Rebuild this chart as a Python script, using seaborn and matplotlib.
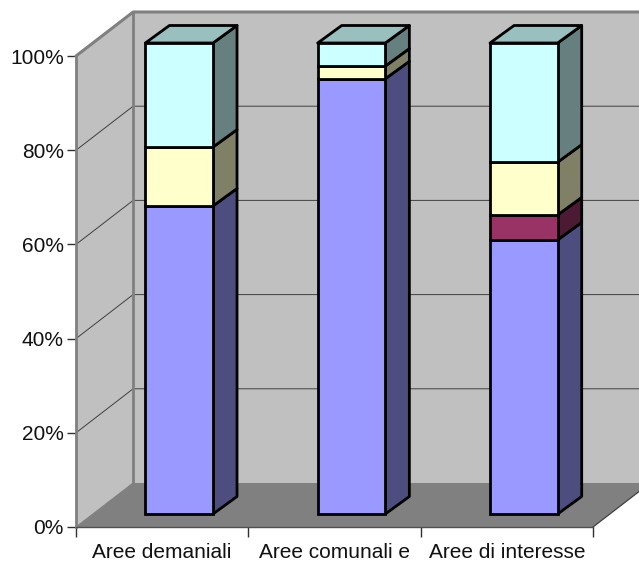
import matplotlib
matplotlib.use("Agg")
import matplotlib.pyplot as plt
from matplotlib.patches import Polygon
from matplotlib.ticker import FixedLocator, PercentFormatter
import numpy as np
import seaborn as sns

# Shares per area type (percent of each column)
categories = ["Aree demaniali", "Aree comunali e", "Aree di interesse"]
series_1 = [65.4, 92.4, 58.2]
series_2 = [0.0, 0.0, 5.3]
series_3 = [12.5, 2.7, 11.2]
series_4 = [22.1, 4.9, 25.3]
y_ticks = [0, 20, 40, 60, 80, 100]
colors = ["#9999FF", "#993366", "#FFFFCC", "#CCFFFF"]

W, H = 639, 561
sns.set_theme(style="white")
plt.rcParams["font.family"] = ["Liberation Sans", "DejaVu Sans"]


def px_axes(fig, left, right, top, bottom):
    return fig.add_axes([left / W, 1 - bottom / H, (right - left) / W, (bottom - top) / H])


fig = plt.figure(figsize=(W / 100, H / 100), dpi=100, facecolor="white")

# Chart box: front plane of the 3-D frame, with walls pushed back by a fixed depth
ax = px_axes(fig, 76, 593, 56, 527)
ax.set_xlim(-0.5, 2.5)
ax.set_ylim(0, 100)
ax.patch.set_visible(False)
wall_dx, wall_dy = 57 / 172, 44 / 4.71
x0, x1 = -0.5, 2.5
wall = "#C0C0C0"
frame = "#808080"

ax.add_patch(Polygon([(x0 + wall_dx, wall_dy), (x1 + wall_dx, wall_dy),
                      (x1 + wall_dx, 100 + wall_dy), (x0 + wall_dx, 100 + wall_dy)],
                     fc=wall, ec="none", clip_on=False, zorder=1))
ax.add_patch(Polygon([(x0, 0), (x0 + wall_dx, wall_dy), (x0 + wall_dx, 100 + wall_dy), (x0, 100)],
                     fc=wall, ec="none", clip_on=False, zorder=1))
ax.add_patch(Polygon([(x0, 0), (x1, 0), (x1 + wall_dx, wall_dy), (x0 + wall_dx, wall_dy)],
                     fc=frame, ec="none", clip_on=False, zorder=1.2))

# Gridlines run along the side wall and across the back wall
for t in y_ticks[1:-1]:
    ax.plot([x0, x0 + wall_dx, x1 + wall_dx], [t, t + wall_dy, t + wall_dy],
            color="#404040", lw=0.7, clip_on=False, zorder=1.1)
ax.plot([x0, x0 + wall_dx, x1 + wall_dx], [100, 100 + wall_dy, 100 + wall_dy],
        color=frame, lw=2.2, clip_on=False, zorder=1.3)
ax.plot([x0 + wall_dx, x0 + wall_dx], [wall_dy, 100 + wall_dy],
        color=frame, lw=2.0, clip_on=False, zorder=1.3)
ax.plot([x1, x1 + wall_dx], [0, wall_dy], color="#404040", lw=0.9, clip_on=False, zorder=1.3)
ax.plot([x0, x0 + wall_dx], [0, wall_dy], color=frame, lw=0.8, clip_on=False, zorder=1.3)

for side in ("top", "right"):
    ax.spines[side].set_visible(False)
ax.spines["left"].set_color(frame)
ax.spines["left"].set_linewidth(2.0)
ax.spines["bottom"].set_color("#505050")
ax.spines["bottom"].set_linewidth(1.0)

ax.yaxis.set_major_locator(FixedLocator(y_ticks))
ax.yaxis.set_major_formatter(PercentFormatter(100, decimals=0))
ax.xaxis.set_major_locator(FixedLocator([-0.5, 0.5, 1.5, 2.5]))
ax.xaxis.set_minor_locator(FixedLocator([0, 1, 2]))
ax.set_xticklabels([])
ax.set_xticklabels(categories, minor=True)
ax.tick_params(axis="y", which="major", left=True, length=6.5, width=1, color="#303030",
               labelsize=15, labelcolor="#111111", pad=2.3)
ax.tick_params(axis="x", which="major", bottom=True, length=7, width=1, color="#303030")
ax.tick_params(axis="x", which="minor", bottom=False, length=0, labelsize=15,
               labelcolor="#111111", pad=11.5)

# Columns stand on the floor, set back from the front plane
bars = px_axes(fig, 93, 610, 43, 514)
bars.patch.set_visible(False)
bar_width = 67.5 / 172
side_dx, side_dy = 24 / 172, 17.5 / 4.71
all_series = [series_1, series_2, series_3, series_4]
bottom = np.zeros(len(categories))
edge_lw = 2.0


def shade(color, factor):
    rgb = np.array(matplotlib.colors.to_rgb(color))
    return tuple(rgb * factor)


for values, color in zip(all_series, colors):
    values = np.asarray(values)
    sns.barplot(x=categories, y=values, bottom=bottom, color=color, saturation=1,
                width=bar_width, edgecolor="black", linewidth=edge_lw, ax=bars, zorder=3)
    for i, (v, b) in enumerate(zip(values, bottom)):
        if v <= 0:
            continue
        r = i + bar_width / 2
        bars.add_patch(Polygon([(r, b), (r + side_dx, b + side_dy),
                                (r + side_dx, b + v + side_dy), (r, b + v)],
                               fc=shade(color, 0.5), ec="black", lw=edge_lw,
                               joinstyle="round", clip_on=False, zorder=2.5))
    bottom = bottom + values

# Caps on top of the last stacked segment
for i, top in enumerate(bottom):
    l, r = i - bar_width / 2, i + bar_width / 2
    bars.add_patch(Polygon([(l, top), (r, top), (r + side_dx, top + side_dy), (l + side_dx, top + side_dy)],
                           fc=shade(colors[-1], 0.75), ec="black", lw=edge_lw,
                           joinstyle="round", clip_on=False, zorder=2.6))

for artist in bars.patches:
    artist.set_clip_on(False)
bars.set_xlim(-0.5, 2.5)
bars.set_ylim(0, 100)
bars.set_axis_off()

fig.savefig("out.png", dpi=100, facecolor="white")
